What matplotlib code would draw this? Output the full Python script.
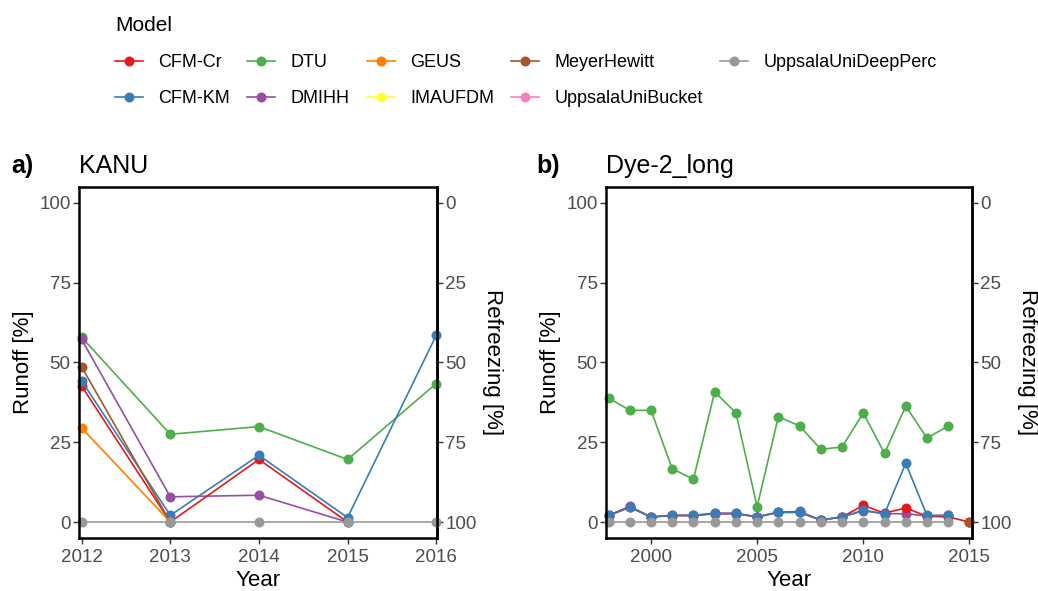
import numpy as np
import matplotlib.pyplot as plt
from matplotlib.lines import Line2D

plt.rcParams['font.family'] = ['Liberation Sans', 'DejaVu Sans']

nan = np.nan

# model names and Set1 colours, in legend order
models = ['CFM-Cr', 'CFM-KM', 'DTU', 'DMIHH', 'GEUS', 'IMAUFDM',
          'MeyerHewitt', 'UppsalaUniBucket', 'UppsalaUniDeepPerc']
colors = ['#E41A1C', '#377EB8', '#4DAF4A', '#984EA3', '#FF7F00', '#FFFF33',
          '#A65628', '#F781BF', '#999999']
# drawing order (last one on top)
draw_order = ['DTU', 'DMIHH', 'CFM-Cr', 'CFM-KM', 'GEUS', 'IMAUFDM',
              'MeyerHewitt', 'UppsalaUniBucket', 'UppsalaUniDeepPerc']

# KANU, runoff fraction [%]
kanu_years = [2012, 2013, 2014, 2015, 2016]
kanu_cfm_cr = [42.6, 0.0, 19.6, 0.0, nan]
kanu_cfm_km = [44.2, 2.1, 20.9, 1.4, 58.5]
kanu_dtu = [57.9, 27.5, 29.9, 19.6, 43.4]
kanu_dmihh = [57.2, 7.9, 8.4, 0.0, nan]
kanu_geus = [29.5, 0.0, nan, nan, nan]
kanu_imaufdm = [nan, nan, nan, nan, nan]
kanu_meyer = [48.6, 0.0, nan, nan, nan]
kanu_bucket = [nan, nan, nan, nan, nan]
kanu_deepperc = [0.0, 0.0, 0.0, 0.0, 0.0]

# Dye-2_long, runoff fraction [%]
dye_years = list(range(1998, 2016))
dye_cfm_cr = [2.0, 4.6, 1.6, 2.0, 2.0, 2.6, 2.6, 1.6, 3.0, 3.0, 0.6, 1.6,
              5.2, 2.8, 4.4, 1.8, 1.6, 0.0]
dye_cfm_km = [2.1, 4.7, 1.6, 2.1, 2.1, 2.7, 2.7, 1.6, 3.1, 3.1, 0.6, 1.6,
              3.7, 2.6, 18.4, 2.1, 2.1, nan]
dye_dtu = [38.9, 35.0, 35.0, 16.7, 13.4, 40.8, 34.2, 4.8, 33.0, 30.1, 22.8,
           23.5, 34.2, 21.5, 36.3, 26.3, 30.1, nan]
dye_dmihh = [2.1, 4.9, 1.6, 2.1, 2.1, 2.7, 2.7, 1.6, 3.1, 3.3, 0.6, 1.6,
             3.5, 2.6, 2.6, 1.9, 2.1, nan]
dye_geus = [nan] * 18
dye_imaufdm = [nan] * 18
dye_meyer = [nan] * 17 + [0.0]
dye_bucket = [nan] * 18
dye_deepperc = [0.0] * 17 + [nan]

kanu = dict(zip(models, [kanu_cfm_cr, kanu_cfm_km, kanu_dtu, kanu_dmihh,
                         kanu_geus, kanu_imaufdm, kanu_meyer, kanu_bucket,
                         kanu_deepperc]))
dye = dict(zip(models, [dye_cfm_cr, dye_cfm_km, dye_dtu, dye_dmihh,
                        dye_geus, dye_imaufdm, dye_meyer, dye_bucket,
                        dye_deepperc]))
col = dict(zip(models, colors))

tick_grey = '#4D4D4D'
lw = 1.2
ms = 7.2


def panel(ax, years, series, xlim, xticks, letter, site):
    for m in draw_order:
        ax.plot(years, series[m], color=col[m], lw=lw, marker='o',
                markersize=ms, markeredgewidth=0, clip_on=False)
    ax.set_xlim(*xlim)
    ax.set_ylim(-5, 105)
    ax.set_xticks(xticks)
    ax.set_yticks([0, 25, 50, 75, 100])
    for s in ax.spines.values():
        s.set_linewidth(1.8)
        s.set_color('black')
    ax.tick_params(axis='both', labelsize=13.5, labelcolor=tick_grey,
                   color='#333333', length=4, width=1, pad=2)
    ax.tick_params(axis='x', pad=4)
    ax.set_xlabel('Year', fontsize=16, labelpad=3)
    ax.set_ylabel('Runoff [%]', fontsize=16, labelpad=4)

    sec = ax.secondary_yaxis('right', functions=(lambda v: 100 - v,
                                                 lambda v: 100 - v))
    sec.set_yticks([0, 25, 50, 75, 100])
    sec.spines['right'].set_linewidth(1.8)
    sec.tick_params(labelsize=13.5, labelcolor=tick_grey, color='#333333',
                    length=4, width=1, pad=2)
    sec.set_ylabel('Refreezing [%]', fontsize=16, rotation=270,
                   va='bottom', labelpad=4)

    ax.text(-0.19, 1.06, letter, transform=ax.transAxes, fontsize=18,
            fontweight='bold', va='center', ha='left')
    ax.text(0.0, 1.06, site, transform=ax.transAxes, fontsize=18,
            va='center', ha='left')


fig = plt.figure(figsize=(10.38, 5.91), dpi=100)
ax_a = fig.add_axes([0.0761, 0.0897, 0.345, 0.594])
ax_b = fig.add_axes([0.5838, 0.0897, 0.3526, 0.594])

panel(ax_a, kanu_years, kanu, (2011.97, 2016.01),
      [2012, 2013, 2014, 2015, 2016], 'a)', 'KANU')
panel(ax_b, dye_years, dye, (1997.88, 2015.12),
      [2000, 2005, 2010, 2015], 'b)', 'Dye-2_long')

handles = [Line2D([], [], color=c, lw=lw, marker='o', markersize=ms,
                  markeredgewidth=0) for c in colors]
leg = fig.legend(handles, models, title='Model', ncol=5, frameon=False,
                 loc='upper left', bbox_to_anchor=(0.095, 1.0),
                 fontsize=13, title_fontsize=15, alignment='left',
                 handlelength=1.55, handletextpad=0.85, columnspacing=0.95,
                 labelspacing=1.05)

fig.savefig('out.png', dpi=100, facecolor='white')
